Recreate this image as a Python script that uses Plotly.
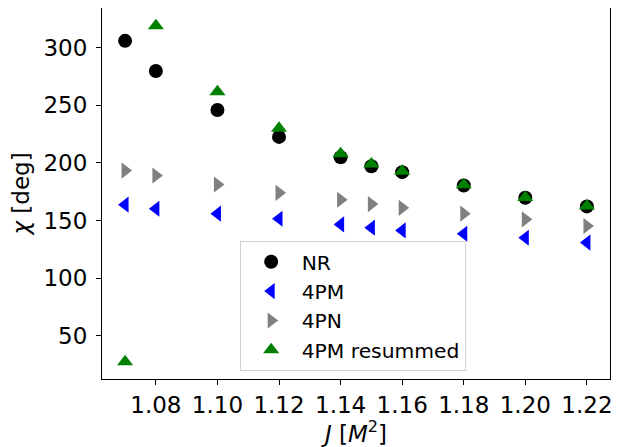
import plotly.graph_objects as go

J = [1.07, 1.08, 1.10, 1.12, 1.14, 1.15, 1.16, 1.18, 1.20, 1.22]
chi_nr = [305.8, 279.6, 245.8, 222.5, 204.8, 197.0, 191.9, 180.4, 169.7, 162.2]
chi_4pm = [163.7, 160.2, 155.9, 151.5, 146.6, 143.8, 141.4, 138.5, 135.0, 130.8]
chi_4pn = [193.3, 189.0, 181.2, 174.0, 168.0, 164.2, 161.0, 155.9, 151.0, 145.2]
chi_res = [27.5, 318.8, 261.7, 230.0, 207.8, 199.0, 192.7, 181.0, 170.0, 162.5]

x_ticks = [1.08, 1.10, 1.12, 1.14, 1.16, 1.18, 1.20, 1.22]
y_ticks = [50, 100, 150, 200, 250, 300]

fig = go.Figure()
fig.add_trace(go.Scatter(x=J, y=chi_nr, mode="markers", name="NR",
                         marker=dict(symbol="circle", size=14, color="black")))
fig.add_trace(go.Scatter(x=J, y=chi_4pm, mode="markers", name="4PM",
                         marker=dict(symbol="triangle-left", size=14, color="blue")))
fig.add_trace(go.Scatter(x=J, y=chi_4pn, mode="markers", name="4PN",
                         marker=dict(symbol="triangle-right", size=14, color="gray")))
fig.add_trace(go.Scatter(x=J, y=chi_res, mode="markers", name="4PM resummed",
                         marker=dict(symbol="triangle-up", size=14, color="green")))

font = "DejaVu Sans"
axis_common = dict(showgrid=False, zeroline=False, showline=True, linecolor="black",
                   linewidth=1, mirror=True, ticks="outside", ticklen=5, tickwidth=1,
                   tickcolor="black", automargin=False,
                   tickfont=dict(family=font, size=23, color="black"))

fig.update_layout(
    width=613, height=439,
    margin=dict(l=94, r=11, t=0, b=68),
    paper_bgcolor="white", plot_bgcolor="white",
    font=dict(family=font, color="black"),
    xaxis=dict(range=[1.0625, 1.2275], tickvals=x_ticks,
               ticktext=[f"{v:.2f}" for v in x_ticks],
               title=dict(text="<i>J</i> [<i>M</i><sup>2</sup>]",
                          font=dict(family=font, size=23), standoff=2),
               **axis_common),
    yaxis=dict(range=[12.5, 334.3], tickvals=y_ticks, ticklabelstandoff=4,
               title=dict(text="<i>χ</i> [deg]",
                          font=dict(family=font, size=23), standoff=8),
               **axis_common),
    legend=dict(x=0.271, y=0.372, xanchor="left", yanchor="top",
                bgcolor="white", bordercolor="#d0d0d0", borderwidth=1,
                itemwidth=51,
                font=dict(family=font, size=20.3, color="black")),
)

fig.write_html("out.html")
